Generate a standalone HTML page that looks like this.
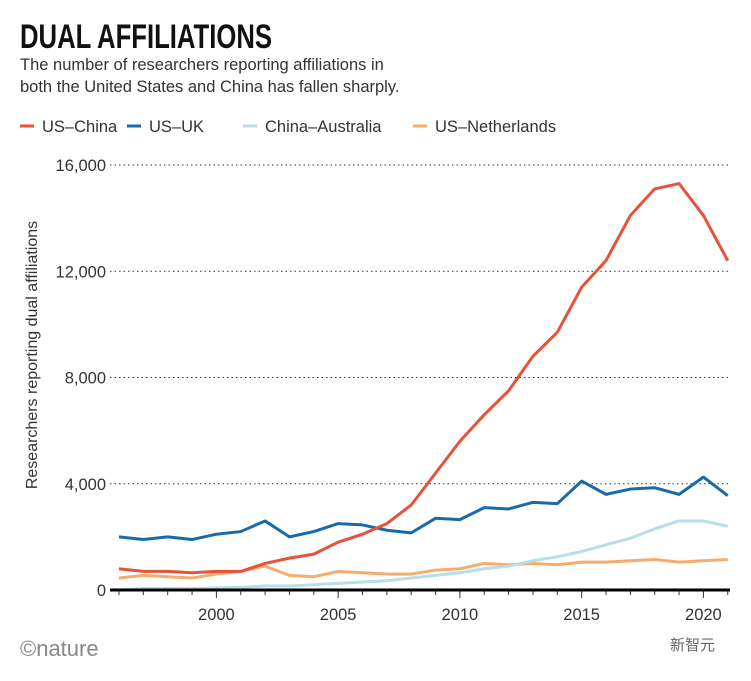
<!DOCTYPE html>
<html><head><meta charset="utf-8"><style>
body{margin:0;background:#fff;font-family:"Liberation Sans","Noto Sans CJK SC",sans-serif;}
</style></head><body>
<svg width="751" height="676" xmlns="http://www.w3.org/2000/svg">
<text x="20" y="48" font-size="34" font-weight="bold" fill="#111" textLength="252" lengthAdjust="spacingAndGlyphs">DUAL AFFILIATIONS</text>
<text x="20" y="70" font-size="16.5" fill="#333">The number of researchers reporting affiliations in</text>
<text x="20" y="92" font-size="16.5" fill="#333">both the United States and China has fallen sharply.</text>
<g id="legend"></g>
<g id="grid"></g>
<text transform="translate(37,355) rotate(-90)" text-anchor="middle" font-size="16" fill="#333">Researchers reporting dual affiliations</text>
<g id="series"></g>
<text x="20" y="656" font-size="22" fill="#888">©nature</text>
<text x="670" y="650" font-size="15" fill="#666">新智元</text>
</svg>
<script>
const years=[1996,1997,1998,1999,2000,2001,2002,2003,2004,2005,2006,2007,2008,2009,2010,2011,2012,2013,2014,2015,2016,2017,2018,2019,2020,2021];
const usChina=[800,700,700,650,700,700,1000,1200,1350,1800,2100,2500,3200,4400,5600,6600,7500,8800,9700,11400,12400,14100,15100,15300,14100,12400];
const usUK=[2000,1900,2000,1900,2100,2200,2600,2000,2200,2500,2450,2250,2150,2700,2650,3100,3050,3300,3250,4100,3600,3800,3850,3600,4250,3550];
const chinaAus=[0,50,50,50,80,100,150,150,200,250,300,350,450,550,650,800,900,1100,1250,1450,1700,1950,2300,2600,2600,2400];
const usNL=[450,550,500,450,600,700,900,550,500,700,650,600,600,750,800,1000,950,1000,950,1050,1050,1100,1150,1050,1100,1150];
const yTicks=[0,4000,8000,12000,16000];
const xTicks=[2000,2005,2010,2015,2020];
const NS="http://www.w3.org/2000/svg";
const xs=y=>119+(y-1996)*24.35;
const ys=v=>590-v*(425/16000);
function mk(t,a,p){const e=document.createElementNS(NS,t);for(const k in a)e.setAttribute(k,a[k]);p.appendChild(e);return e;}
const grid=document.getElementById('grid');
yTicks.forEach(v=>{
 if(v>0){const l=mk('line',{x1:110,x2:730,y1:ys(v),y2:ys(v),stroke:'#333','stroke-width':1,'stroke-dasharray':'1.5,3'},grid);
 
 }
 const t=mk('text',{x:106,y:ys(v)+6,'text-anchor':'end','font-size':16.5,fill:'#333'},grid);t.textContent=v.toLocaleString('en-US');
 
 
});
for(let y=1996;y<=2021;y++){const l=mk('line',{x1:xs(y),x2:xs(y),y1:590,y2:xTicks.includes(y)?598:595,stroke:'#333','stroke-width':1},grid);
 
 }
xTicks.forEach(y=>{const t=mk('text',{x:xs(y),y:620,'text-anchor':'middle','font-size':16.5,fill:'#333'},grid);t.textContent=y;
 
 });
const series=document.getElementById('series');
const defs=[['US–China',usChina,'#e4533a'],['US–UK',usUK,'#1a6aa8'],['China–Australia',chinaAus,'#b9dde9'],['US–Netherlands',usNL,'#f4ac6f']];
[usNL,chinaAus,usUK,usChina].forEach(d=>{
 const def=defs.find(x=>x[1]===d);
 const p=mk('polyline',{points:d.map((v,i)=>xs(years[i])+','+ys(v)).join(' '),fill:'none',stroke:def[2],'stroke-width':3,'stroke-linejoin':'round'},series);
 
 
});
const base=mk('line',{x1:110,x2:730,y1:590,y2:590,stroke:'#000','stroke-width':3},series);


const lg=document.getElementById('legend');let lx=20;
const lw=[107,116,170,150];
defs.forEach((d,i)=>{
 const g=mk('g',{},lg);
 
 
 mk('line',{x1:lx,x2:lx+14,y1:126,y2:126,stroke:d[2],'stroke-width':3},g);
 const t=mk('text',{x:lx+22,y:132,'font-size':16.5,fill:'#333'},g);t.textContent=d[0];
 lx+=lw[i];
});
</script>
</body></html>
